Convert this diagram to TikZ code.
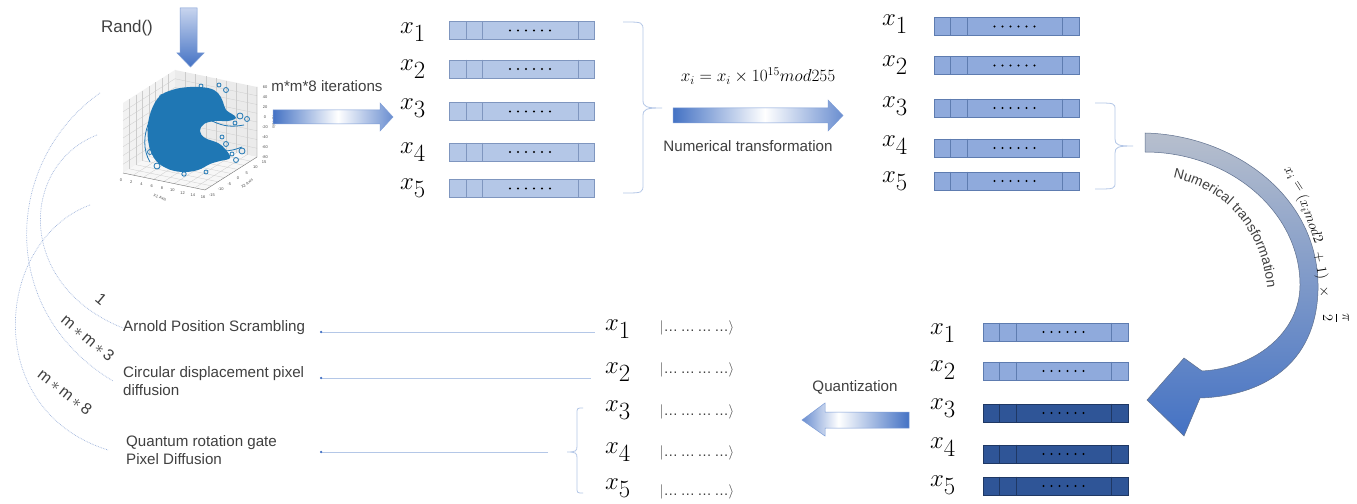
\documentclass[tikz,border=0pt]{standalone}
\usepackage{fontspec}
\setmainfont{Liberation Sans}
\usetikzlibrary{calc,decorations.text,arrows.meta}

\definecolor{txt}{HTML}{404040}
\definecolor{abl}{HTML}{4472C4}
\definecolor{ablsoft}{HTML}{6A8ED0}
\definecolor{ablpale}{HTML}{C7D4EE}
\definecolor{barA}{HTML}{B4C7E7}
\definecolor{barAe}{HTML}{7F96BF}
\definecolor{barB}{HTML}{8FAADC}
\definecolor{barBe}{HTML}{5E7CB0}
\definecolor{barC}{HTML}{2F5597}
\definecolor{barCe}{HTML}{1F3864}
\definecolor{thinln}{HTML}{B4C7E7}
\definecolor{arcclr}{HTML}{9DB3DB}
\definecolor{plotblue}{HTML}{1F77B4}
\definecolor{curvtop}{HTML}{B7BFCD}
\definecolor{curvmid}{HTML}{8A9DBE}
\definecolor{curvedge}{HTML}{5F708E}

% left-to-right fades for the block arrows
\pgfdeclarehorizontalshading{fadeR}{100bp}{color(0bp)=(abl); color(25bp)=(abl); color(52bp)=(white); color(75bp)=(ablsoft); color(100bp)=(ablsoft)}
\pgfdeclarehorizontalshading{fadeL}{100bp}{color(0bp)=(ablsoft); color(25bp)=(ablsoft); color(42bp)=(white); color(75bp)=(abl); color(100bp)=(abl)}

% register bar: name, centre, fill, edge
\newcommand\regbar[4]{%
  \node[bar, fill=#3, draw=#4] (#1) at (#2) {};
  \draw[#4, line width=0.7bp]
    ([xshift=17bp]#1.north west) -- ([xshift=17bp]#1.south west)
    ([xshift=33.5bp]#1.north west) -- ([xshift=33.5bp]#1.south west)
    ([xshift=-17bp]#1.north east) -- ([xshift=-17bp]#1.south east);
  \foreach \k in {-20,-12,-4,4,12,20}
    \fill ([xshift={(8+\k)*1bp}]#1.center) circle (1.15bp);
}

\begin{document}
\begin{tikzpicture}[x=1bp,y=-1bp,
  lbl/.style={font=\fontsize{15.2}{18.5}\selectfont, text=txt, inner sep=0},
  xv/.style={font=\fontsize{33}{36}\selectfont, inner sep=0},
  ket/.style={font=\fontsize{14.5}{16}\selectfont, text=txt, inner sep=0},
  bar/.style={rectangle, minimum width=145bp, minimum height=18bp, inner sep=0, line width=0.7bp},
  blockarrow/.style={shade, draw=abl!70, line width=0.5bp},
  bracestroke/.style={draw=thinln, line width=0.8bp},
  arcline/.style={draw=arcclr, line width=0.7bp, densely dotted},
  link/.style={draw=thinln, line width=0.9bp, -{Circle[length=2.2bp, color=abl]}},
  tick/.style={font=\fontsize{4}{4}\selectfont, text=black!70, inner sep=0},
  pane/.style={fill=black!5},
  gridln/.style={draw=black!20, line width=0.3bp},
  fchunk/.style={inner sep=0, font=\fontsize{15.5}{18}\selectfont},
  cnt/.style={font=\fontsize{16}{18}\selectfont, text=txt, inner sep=0}
]
\useasboundingbox (0,0) rectangle (1357,504);
\fill[white] (0,0) rectangle (1357,504);

% ---------- random start and chaotic attractor ----------
\node[lbl, font=\fontsize{17}{20}\selectfont] (rand) at (127,28) {Rand()};
\path[blockarrow, top color=ablpale, bottom color=abl]
  (180,8) -- (197,8) -- (197,53) -- (204,53) -- (190.5,67) -- (177,53) -- (180,53) -- cycle;

\coordinate (pA) at (123,103);
\coordinate (pB) at (175,70);
\coordinate (pC) at (175,140);
\coordinate (pD) at (123,173);
\coordinate (pE) at (257,87);
\coordinate (pF) at (257,157);
\coordinate (pG) at (205,190);
\fill[pane] (pA) -- (pB) -- (pC) -- (pD) -- cycle;
\fill[pane, fill=black!8] (pB) -- (pE) -- (pF) -- (pC) -- cycle;
\fill[pane, fill=black!3] (pD) -- (pC) -- (pF) -- (pG) -- cycle;
\foreach \t in {0.125,0.25,0.375,0.5,0.625,0.75,0.875} {
  \draw[gridln] ($(pA)!\t!(pD)$) -- ($(pB)!\t!(pC)$);
  \draw[gridln] ($(pA)!\t!(pB)$) -- ($(pD)!\t!(pC)$);
  \draw[gridln] ($(pB)!\t!(pC)$) -- ($(pE)!\t!(pF)$);
  \draw[gridln] ($(pB)!\t!(pE)$) -- ($(pC)!\t!(pF)$);
  \draw[gridln] ($(pD)!\t!(pC)$) -- ($(pG)!\t!(pF)$);
  \draw[gridln] ($(pD)!\t!(pG)$) -- ($(pC)!\t!(pF)$);
}
\draw[black!55, line width=0.4bp] (pD) -- (pG) -- (pF) -- (pE);
\foreach \v [count=\j from 0] in {0,2,4,6,8,10,12,14,16}
  \node[tick] at ($(pD)!\j/8!(pG)+(-2,7)$) {\v};
\foreach \v [count=\j from 0] in {-15,-10,-5,0,5,10,15}
  \node[tick] at ($(pG)!\j/6!(pF)+(7,5)$) {\v};
\foreach \v [count=\j from 0] in {60,40,20,0,-20,-40,-60,-80}
  \node[tick] at ($(pE)!\j/7!(pF)+(8,0)$) {\v};
\node[tick, rotate=-20] at ($(pD)!0.5!(pG)+(-4,16)$) {X1 Axis};
\node[tick, rotate=35] at ($(pG)!0.5!(pF)+(16,10)$) {X2 Axis};
\node[tick, rotate=-90] at ($(pE)!0.5!(pF)+(17,0)$) {X3 Axis};

\fill[plotblue] plot[smooth cycle, tension=0.65] coordinates {
  (158,98) (172,90) (190,87) (208,88) (218,93) (223,102) (226,110) (232,114)
  (236,118) (228,121) (215,121) (204,124) (200,131) (205,138) (218,143)
  (226,150) (230,158) (220,161) (210,164) (198,170) (182,172) (166,168)
  (154,158) (148,140) (149,118)};
\begin{scope}[plotblue, line width=0.8bp]
  \draw (240,116) circle (3bp);
  \draw (247,119) circle (2.5bp);
  \draw (235,123) circle (2bp);
  \draw (242,151) circle (3bp);
  \draw (236,160) circle (2.5bp);
  \draw (232,154) circle (2bp);
  \draw (226,90) circle (2.5bp);
  \draw (219,85) circle (2bp);
  \draw (201,86) circle (2bp);
  \draw (157,166) circle (3bp);
  \draw (150,152) circle (2.5bp);
  \draw (162,97) circle (2.5bp);
  \draw (222,137) circle (2bp);
  \draw (226,144) circle (2.5bp);
  \draw (206,172) circle (2bp);
  \draw (184,174) circle (2.2bp);
  \draw (212,121) .. controls (225,127) and (232,127) .. (244,125);
  \draw (204,146) .. controls (217,153) and (230,152) .. (242,147);
  \draw (150,120) .. controls (143,135) and (143,150) .. (150,162);
\end{scope}

% ---------- iterations ----------
\node[lbl] (iter) at (327,86) {m*m*8 iterations};
\path[blockarrow, shading=fadeR]
  (273,110) -- (380,110) -- (380,103) -- (393,117) -- (380,131) -- (380,124) -- (273,124) -- cycle;

% ---------- first register group ----------
\regbar{ba1}{522,30.5}{barA}{barAe}
\regbar{ba2}{522,69}{barA}{barAe}
\regbar{ba3}{522,111.5}{barA}{barAe}
\regbar{ba4}{522,152}{barA}{barAe}
\regbar{ba5}{522,188.5}{barA}{barAe}
\node[xv] (ga1) at (413,32) {$x_1$};
\node[xv] (ga2) at (413,69) {$x_2$};
\node[xv] (ga3) at (413,108) {$x_3$};
\node[xv] (ga4) at (413,152) {$x_4$};
\node[xv] (ga5) at (413,188) {$x_5$};
\draw[bracestroke] (623,22) .. controls (643,22) .. (643,31) -- (643,100)
  .. controls (643,107) and (646,108) .. (662,108)
  .. controls (646,108) and (643,109) .. (643,116) -- (643,184)
  .. controls (643,193) .. (623,193);

\node[font=\fontsize{16.5}{18}\selectfont, inner sep=0] (f1) at (758,76) {$x_i = x_i \times 10^{15} mod255$};
\path[blockarrow, shading=fadeR]
  (673,108) -- (828,108) -- (828,100) -- (843,115.5) -- (828,131) -- (828,123) -- (673,123) -- cycle;
\node[lbl] (nt1) at (748,146) {Numerical transformation};

% ---------- second register group ----------
\regbar{bb1}{1006.5,26.5}{barB}{barBe}
\regbar{bb2}{1006.5,65.5}{barB}{barBe}
\regbar{bb3}{1006.5,108}{barB}{barBe}
\regbar{bb4}{1006.5,148}{barB}{barBe}
\regbar{bb5}{1006.5,181}{barB}{barBe}
\node[xv] (gb1) at (895,24) {$x_1$};
\node[xv] (gb2) at (895,65) {$x_2$};
\node[xv] (gb3) at (895,106) {$x_3$};
\node[xv] (gb4) at (895,145) {$x_4$};
\node[xv] (gb5) at (895,181) {$x_5$};
\draw[bracestroke] (1095,103) .. controls (1115,103) .. (1115,110) -- (1115,139)
  .. controls (1115,145) and (1118,146) .. (1133,146)
  .. controls (1118,146) and (1115,147) .. (1115,153) -- (1115,182)
  .. controls (1115,189) .. (1095,189);

% ---------- curved transformation arrow ----------
\path[shade, top color=curvtop, middle color=curvmid, bottom color=abl, draw=curvedge, line width=0.5bp]
  (1145,133) .. controls (1232,135) and (1320,195) .. (1318,290)
  .. controls (1316,365) and (1262,396) .. (1200,398)
  -- (1184,436) -- (1147,400) -- (1184,358) -- (1202,371)
  .. controls (1256,368) and (1300,332) .. (1300,285)
  .. controls (1300,212) and (1230,152) .. (1145,152) -- cycle;
\path[decorate, decoration={text along path, text color=txt,
    text={|\fontsize{14}{16}\selectfont|Numerical transformation}}]
  (1173,178) .. controls (1232,190) and (1268,240) .. (1268,305);
\node[fchunk, rotate=-57] (fc1) at (1293,180) {$x_i =$};
\node[fchunk, rotate=-70] (fc2) at (1310,219) {$(x_i mod2$};
\node[fchunk, rotate=-81] (fc3) at (1320,266) {$+\ 1)$};
\node[fchunk, rotate=-86] (fc4) at (1324,292) {$\times$};
\node[fchunk, rotate=-90] (fc5) at (1336,318) {$\displaystyle\frac{\pi}{2}$};

% ---------- third register group ----------
\regbar{bc1}{1055.5,332}{barB}{barBe}
\regbar{bc2}{1055.5,371}{barB}{barBe}
\regbar{bc3}{1055.5,413}{barC}{barCe}
\regbar{bc4}{1055.5,454}{barC}{barCe}
\regbar{bc5}{1055.5,486}{barC}{barCe}
\node[xv] (gc1) at (943,333) {$x_1$};
\node[xv] (gc2) at (943,370) {$x_2$};
\node[xv] (gc3) at (943,408) {$x_3$};
\node[xv] (gc4) at (943,447) {$x_4$};
\node[xv] (gc5) at (943,485) {$x_5$};

\node[lbl] (quant) at (855,387) {Quantization};
\path[blockarrow, shading=fadeL]
  (909,412) -- (825,412) -- (825,403) -- (802,420) -- (825,436) -- (825,428) -- (909,428) -- cycle;

% ---------- quantum states ----------
\node[xv] (gd1) at (618,329) {$x_1$};
\node[xv] (gd2) at (618,372) {$x_2$};
\node[xv] (gd3) at (618,410) {$x_3$};
\node[xv] (gd4) at (618,452) {$x_4$};
\node[xv] (gd5) at (618,488) {$x_5$};
\node[ket] (k1) at (697,328) {$|$\ldots\,\ldots\,\ldots\,\ldots$\rangle$};
\node[ket] (k2) at (697,370) {$|$\ldots\,\ldots\,\ldots\,\ldots$\rangle$};
\node[ket] (k3) at (697,412) {$|$\ldots\,\ldots\,\ldots\,\ldots$\rangle$};
\node[ket] (k4) at (697,453) {$|$\ldots\,\ldots\,\ldots\,\ldots$\rangle$};
\node[ket] (k5) at (697,492) {$|$\ldots\,\ldots\,\ldots\,\ldots$\rangle$};
\draw[bracestroke] (583,408) .. controls (577,408) .. (577,414) -- (577,446)
  .. controls (577,451) and (576,452) .. (567,452)
  .. controls (576,452) and (577,453) .. (577,458) -- (577,487)
  .. controls (577,493) .. (583,493);
\coordinate (bt3) at (567,452);

% ---------- operations ----------
\node[lbl, anchor=west] (arnold) at (123,328) {Arnold Position Scrambling};
\node[lbl, anchor=west, align=left] (circ) at (123,381) {Circular displacement pixel\\diffusion};
\node[lbl, anchor=west, align=left] (qrot) at (126,450) {Quantum rotation gate\\Pixel Diffusion};

\coordinate (stop) at (320,0);
\coordinate (l1) at ([xshift=-10bp,yshift=-3bp]gd1.west);
\coordinate (l2) at ([xshift=-14bp,yshift=-6bp]gd2.west);
\coordinate (l3) at ([xshift=-19bp]bt3);
\draw[link] (l1) -- (l1 -| stop);
\draw[link] (l2) -- (l2 -| stop);
\draw[link] (l3) -- (l3 -| stop);

% ---------- iteration counts ----------
\draw[arcline] (97,135) .. controls (20,165) and (15,285) .. (arnold.west);
\draw[arcline] (100,93) .. controls (5,160) and (-5,310) .. ([xshift=-10bp]circ.west);
\draw[arcline] (90,205) .. controls (-5,240) and (-20,410) .. ([xshift=-18bp]qrot.west);
\node[cnt, rotate=-40] (c1) at (101,299) {1};
\node[cnt, rotate=-40] (c2) at (88,338) {m\,$*$\,m\,$*$\,3};
\node[cnt, rotate=-38] (c3) at (65,392) {m\,$*$\,m\,$*$\,8};
\end{tikzpicture}
\end{document}
